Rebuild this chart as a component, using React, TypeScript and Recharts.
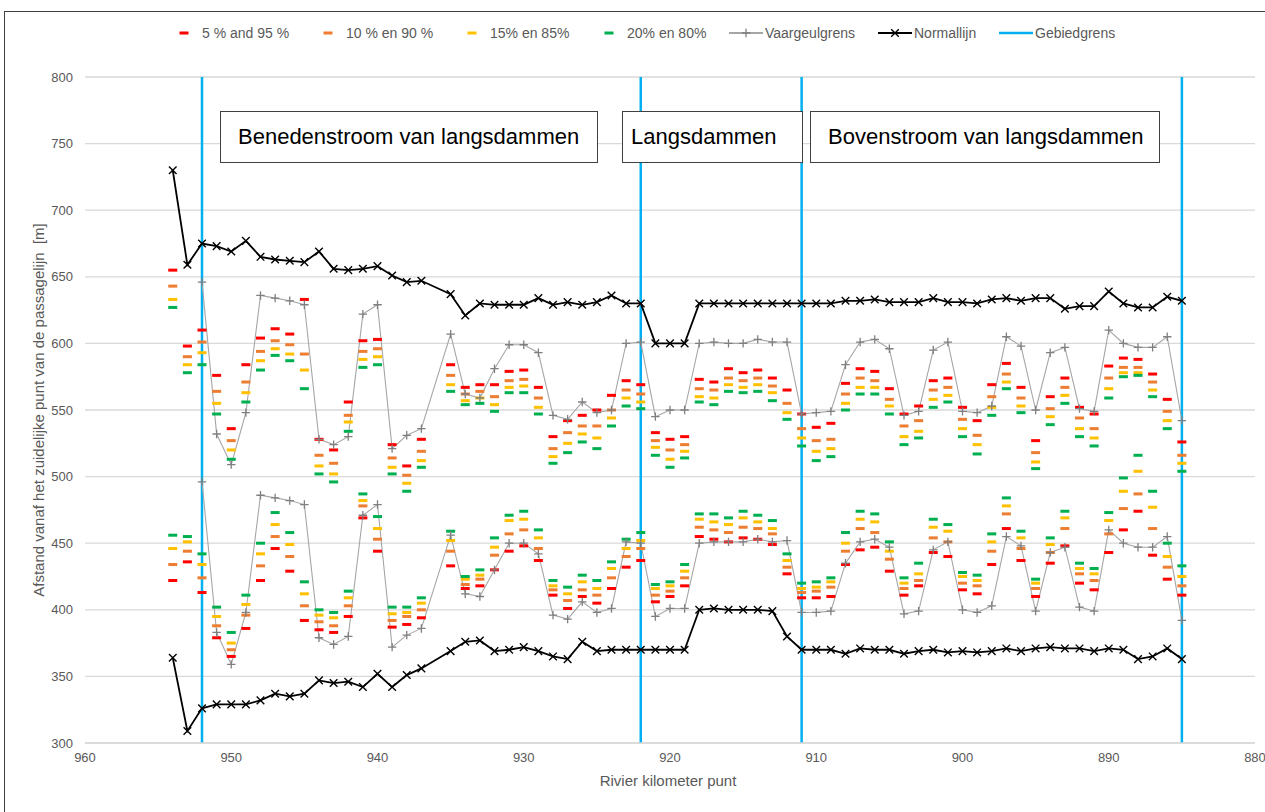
import React from 'react';
import { ComposedChart, Line, XAxis, YAxis, CartesianGrid, ReferenceLine } from 'recharts';

// River km (936 has no data)
const KM = [954, 953, 952, 951, 950, 949, 948, 947, 946, 945, 944, 943, 942, 941, 940, 939, 938, 937,
  935, 934, 933, 932, 931, 930, 929, 928, 927, 926, 925, 924, 923, 922, 921, 920, 919, 918, 917, 916,
  915, 914, 913, 912, 911, 910, 909, 908, 907, 906, 905, 904, 903, 902, 901, 900, 899, 898, 897, 896,
  895, 894, 893, 892, 891, 890, 889, 888, 887, 886, 885];

const NORM_UPPER = [730, 659, 675, 673, 669, 677, 665, 663, 662, 661, 669, 656, 655, 656, 658, 651, 646, 647,
  637, 621, 630, 629, 629, 629, 634, 629, 631, 629, 631, 636, 630, 630, 600, 600, 600, 630, 630, 630,
  630, 630, 630, 630, 630, 630, 630, 632, 632, 633, 631, 631, 631, 634, 631, 631, 630, 633, 634, 632,
  634, 634, 626, 628, 628, 639, 630, 627, 627, 635, 632];

const NORM_LOWER = [364, 309, 326, 329, 329, 329, 332, 337, 335, 337, 347, 345, 346, 342, 352, 342, 351, 356,
  369, 376, 377, 369, 370, 372, 369, 365, 363, 376, 369, 370, 370, 370, 370, 370, 370, 400, 401, 400,
  400, 400, 399, 380, 370, 370, 370, 367, 371, 370, 370, 367, 369, 370, 368, 369, 368, 369, 371, 369,
  371, 372, 371, 371, 369, 371, 370, 363, 365, 371, 363];

const VAAR_UPPER = [null, null, 646, 532, 509, 548, 636, 634, 632, 629, 528, 524, 530, 622, 629, 521, 531, 536,
  607, 562, 559, 581, 599, 599, 593, 546, 543, 556, 548, 550, 600, 601, 545, 550, 550, 600, 601, 600,
  600, 603, 601, 601, 547, 548, 549, 584, 601, 603, 596, 546, 549, 595, 601, 549, 548, 553, 605, 598,
  550, 593, 597, 551, 549, 610, 600, 597, 597, 605, 542];

const VAAR_LOWER = [null, null, 496, 383, 359, 398, 486, 484, 482, 479, 379, 374, 380, 471, 479, 372, 381, 386,
  456, 412, 410, 430, 450, 450, 442, 396, 393, 406, 398, 401, 451, 450, 395, 401, 401, 450, 451, 451,
  451, 453, 451, 452, 398, 398, 399, 435, 451, 453, 447, 397, 399, 445, 451, 400, 398, 403, 455, 448,
  399, 443, 447, 402, 399, 460, 450, 447, 447, 455, 392];

const P95 = [655, 598, 610, 576, 536, 584, 604, 611, 607, 633, 528, 520, 556, 602, 603, 524, 508, 528,
  584, 567, 569, 569, 579, 580, 567, 530, 542, 546, 550, 561, 572, 569, 533, 528, 530, 573, 571, 581,
  578, 580, 574, 565, 547, 537, 540, 570, 581, 579, 566, 547, 553, 572, 574, 552, 542, 569, 585, 567,
  527, 560, 574, 552, 547, 583, 589, 588, 577, 558, 526];

const P90 = [643, 590, 601, 564, 527, 571, 594, 602, 599, 592, 516, 510, 546, 594, 596, 514, 501, 519,
  576, 562, 564, 560, 572, 573, 559, 521, 533, 538, 538, 550, 565, 562, 527, 520, 524, 566, 565, 574,
  572, 574, 568, 555, 536, 527, 528, 562, 574, 572, 558, 538, 542, 565, 567, 543, 531, 560, 577, 559,
  518, 551, 567, 544, 536, 574, 582, 582, 571, 549, 516];

const P85 = [633, 584, 593, 555, 520, 563, 587, 596, 592, 580, 508, 502, 541, 588, 590, 507, 495, 512,
  569, 557, 559, 554, 567, 568, 552, 515, 525, 532, 529, 544, 559, 556, 522, 513, 519, 560, 559, 569,
  567, 569, 563, 548, 529, 519, 521, 555, 567, 567, 553, 530, 534, 558, 561, 536, 524, 552, 571, 553,
  511, 545, 561, 536, 529, 566, 578, 578, 565, 542, 510];

const P80 = [627, 578, 584, 547, 513, 556, 580, 591, 587, 566, 502, 496, 534, 582, 584, 502, 489, 507,
  564, 554, 555, 549, 563, 563, 547, 510, 518, 526, 521, 538, 553, 551, 516, 507, 514, 556, 554, 564,
  563, 564, 557, 543, 523, 512, 515, 550, 562, 562, 547, 524, 529, 552, 556, 530, 517, 546, 566, 548,
  506, 539, 555, 530, 523, 559, 575, 576, 560, 536, 504];

const P20 = [456, 455, 442, 402, 383, 411, 450, 473, 458, 421, 400, 398, 414, 487, 470, 402, 402, 409,
  459, 425, 430, 454, 471, 474, 460, 422, 417, 426, 422, 436, 453, 458, 419, 421, 434, 472, 472, 469,
  474, 471, 467, 442, 420, 421, 424, 458, 474, 472, 451, 424, 435, 468, 464, 428, 426, 457, 484, 459,
  423, 454, 474, 435, 431, 473, 499, 516, 489, 450, 433];

const P15 = [446, 451, 434, 395, 375, 404, 442, 464, 449, 412, 396, 394, 409, 482, 461, 397, 398, 405,
  452, 423, 426, 447, 467, 468, 454, 418, 412, 421, 416, 431, 446, 452, 416, 418, 429, 468, 466, 464,
  469, 466, 461, 437, 416, 417, 421, 450, 468, 466, 444, 420, 427, 462, 459, 425, 422, 451, 478, 454,
  420, 449, 469, 431, 427, 467, 489, 504, 477, 440, 425];

const P10 = [434, 444, 424, 388, 370, 396, 433, 455, 440, 403, 391, 388, 403, 478, 453, 392, 395, 400,
  444, 419, 423, 441, 457, 460, 446, 415, 407, 415, 411, 424, 440, 446, 411, 414, 424, 462, 460, 458,
  462, 461, 457, 432, 413, 414, 417, 444, 461, 458, 438, 416, 422, 454, 451, 420, 418, 444, 472, 446,
  416, 443, 461, 427, 422, 457, 476, 487, 461, 432, 418];

const P5 = [422, 436, 413, 379, 365, 386, 422, 446, 429, 392, 385, 383, 395, 469, 444, 387, 389, 394,
  433, 416, 418, 430, 444, 448, 437, 411, 401, 410, 405, 416, 432, 437, 406, 410, 418, 455, 453, 451,
  454, 453, 449, 427, 409, 409, 410, 434, 445, 447, 429, 411, 418, 443, 440, 415, 412, 434, 461, 437,
  410, 435, 448, 420, 415, 443, 460, 474, 441, 423, 411];

const GEBIEDGRENS = [952, 922, 911, 885];
const X_TICKS = [960, 950, 940, 930, 920, 910, 900, 890, 880];
const Y_TICKS = [300, 350, 400, 450, 500, 550, 600, 650, 700, 750, 800];

const REGIONS = ['Benedenstroom van langsdammen', 'Langsdammen', 'Bovenstroom van langsdammen'];

const LEGEND_LABELS = ['5 % and 95 %', '10 % en 90 %', '15% en 85%', '20% en 80%', 'Vaargeulgrens', 'Normallijn', 'Gebiedgrens'];

const RED = '#FF0000';
const ORANGE = '#ED7D31';
const YELLOW = '#FFC000';
const GREEN = '#00B050';
const BLUE = '#00B0F0';
const FONT = '"Liberation Sans", Arial, sans-serif';
const TEXT = '#595959';

const data = KM.map((km, i) => ({
  km,
  nUp: NORM_UPPER[i], nLo: NORM_LOWER[i],
  vUp: VAAR_UPPER[i], vLo: VAAR_LOWER[i],
  p95: P95[i], p90: P90[i], p85: P85[i], p80: P80[i],
  p20: P20[i], p15: P15[i], p10: P10[i], p5: P5[i],
}));

const dashDot = (color: string, id: string) => (props: any) => {
  const { cx, cy, value, index } = props;
  if (cx == null || cy == null || value == null) return <g key={`${id}-${index}`} />;
  return <rect key={`${id}-${index}`} x={cx - 4.5} y={cy - 1.5} width={9} height={3} fill={color} />;
};

const crossDot = (id: string) => (props: any) => {
  const { cx, cy, value, index } = props;
  if (cx == null || cy == null || value == null) return <g key={`${id}-${index}`} />;
  const s = 3.8;
  return (
    <path key={`${id}-${index}`} d={`M${cx - s},${cy - s}L${cx + s},${cy + s}M${cx - s},${cy + s}L${cx + s},${cy - s}`}
      stroke="#000" strokeWidth={1.4} fill="none" />
  );
};

const plusDot = (id: string) => (props: any) => {
  const { cx, cy, value, index } = props;
  if (cx == null || cy == null || value == null) return <g key={`${id}-${index}`} />;
  const s = 4.2;
  return (
    <path key={`${id}-${index}`} d={`M${cx - s},${cy}L${cx + s},${cy}M${cx},${cy - s}L${cx},${cy + s}`}
      stroke="#7F7F7F" strokeWidth={1.3} fill="none" />
  );
};

const dashSeries: [string, string][] = [
  ['p95', RED], ['p5', RED], ['p90', ORANGE], ['p10', ORANGE],
  ['p85', YELLOW], ['p15', YELLOW], ['p80', GREEN], ['p20', GREEN],
];

function LegendSymbol({ kind }: { kind: number }) {
  if (kind < 4) {
    const c = [RED, ORANGE, YELLOW, GREEN][kind];
    return <svg width={12} height={10}><rect x={1.5} y={3.5} width={9} height={3} fill={c} /></svg>;
  }
  if (kind === 4) {
    return (
      <svg width={34} height={12}>
        <line x1={0} y1={6} x2={34} y2={6} stroke="#A6A6A6" strokeWidth={2} />
        <path d="M12.8,6L21.2,6M17,1.8L17,10.2" stroke="#7F7F7F" strokeWidth={1.3} />
      </svg>
    );
  }
  if (kind === 5) {
    return (
      <svg width={34} height={12}>
        <line x1={0} y1={6} x2={34} y2={6} stroke="#000" strokeWidth={2} />
        <path d="M13.2,2.2L20.8,9.8M13.2,9.8L20.8,2.2" stroke="#000" strokeWidth={1.4} />
      </svg>
    );
  }
  return <svg width={34} height={12}><line x1={0} y1={6} x2={34} y2={6} stroke={BLUE} strokeWidth={2.5} /></svg>;
}

const legendLeft = [178, 322, 466, 603, 729, 878, 999];
const boxes: [number, number, number][] = [[220, 378, 17], [622, 181, 8], [810, 350, 17]];

export default function App() {
  return (
    <div style={{ position: 'absolute', left: 0, top: 0, width: 1265, height: 812, background: '#fff', fontFamily: FONT, overflow: 'hidden' }}>
      <div style={{ position: 'absolute', left: 4, top: 11, width: 1300, height: 900, borderLeft: '1.5px solid #404040', borderTop: '1.5px solid #404040' }} />
      {LEGEND_LABELS.map((lab, i) => (
        <div key={lab} style={{ position: 'absolute', left: legendLeft[i], top: 25, height: 16, display: 'flex', alignItems: 'center', gap: i < 4 ? 12 : 2, fontSize: 14, color: TEXT, whiteSpace: 'nowrap' }}>
          <LegendSymbol kind={i} />
          <span>{lab}</span>
        </div>
      ))}
      <div style={{ position: 'absolute', left: 0, top: 0 }}>
        <ComposedChart width={1265} height={812} data={data} margin={{ top: 77, right: 10, bottom: 39, left: 35 }}>
          <CartesianGrid vertical={false} stroke="#D9D9D9" strokeWidth={1.3} />
          <XAxis dataKey="km" type="number" domain={[880, 960]} reversed ticks={X_TICKS} interval={0}
            axisLine={{ stroke: '#D9D9D9', strokeWidth: 1.3 }} tickLine={false} tickSize={0} tickMargin={10} height={30}
            tick={{ fill: TEXT, fontSize: 13, fontFamily: FONT }} allowDataOverflow />
          <YAxis type="number" domain={[300, 800]} ticks={Y_TICKS} interval={0} axisLine={false} tickLine={false}
            tickSize={0} tickMargin={12} width={50} tick={{ fill: TEXT, fontSize: 13, fontFamily: FONT }} />
          {GEBIEDGRENS.map((x) => (
            <ReferenceLine key={x} x={x} stroke={BLUE} strokeWidth={2.5} ifOverflow="visible" />
          ))}
          {dashSeries.map(([k, c]) => (
            <Line key={k} dataKey={k} stroke="none" strokeWidth={0} dot={dashDot(c, k)} activeDot={false}
              isAnimationActive={false} legendType="none" />
          ))}
          <Line dataKey="vUp" stroke="#A6A6A6" strokeWidth={1.1} dot={plusDot('vUp')} activeDot={false} connectNulls isAnimationActive={false} />
          <Line dataKey="vLo" stroke="#A6A6A6" strokeWidth={1.1} dot={plusDot('vLo')} activeDot={false} connectNulls isAnimationActive={false} />
          <Line dataKey="nUp" stroke="#000" strokeWidth={1.8} dot={crossDot('nUp')} activeDot={false} isAnimationActive={false} />
          <Line dataKey="nLo" stroke="#000" strokeWidth={1.8} dot={crossDot('nLo')} activeDot={false} isAnimationActive={false} />
        </ComposedChart>
      </div>
      {boxes.map(([l, w, pad], i) => (
        <div key={i} style={{ position: 'absolute', left: l, top: 111, width: w, height: 52, boxSizing: 'border-box', border: '1.3px solid #404040', background: '#fff', display: 'flex', alignItems: 'center', paddingLeft: pad, fontSize: 22, color: '#000', whiteSpace: 'nowrap' }}>
          {REGIONS[i]}
        </div>
      ))}
      <div style={{ position: 'absolute', left: 38, top: 410, transform: 'translate(-50%, -50%) rotate(-90deg)', fontSize: 15, color: TEXT, whiteSpace: 'nowrap' }}>
        Afstand vanaf het zuidelijke punt van de passagelijn&nbsp;&nbsp;[m]
      </div>
      <div style={{ position: 'absolute', left: 668, top: 780, transform: 'translate(-50%, -50%)', fontSize: 15, color: TEXT, whiteSpace: 'nowrap' }}>
        Rivier kilometer punt
      </div>
    </div>
  );
}
